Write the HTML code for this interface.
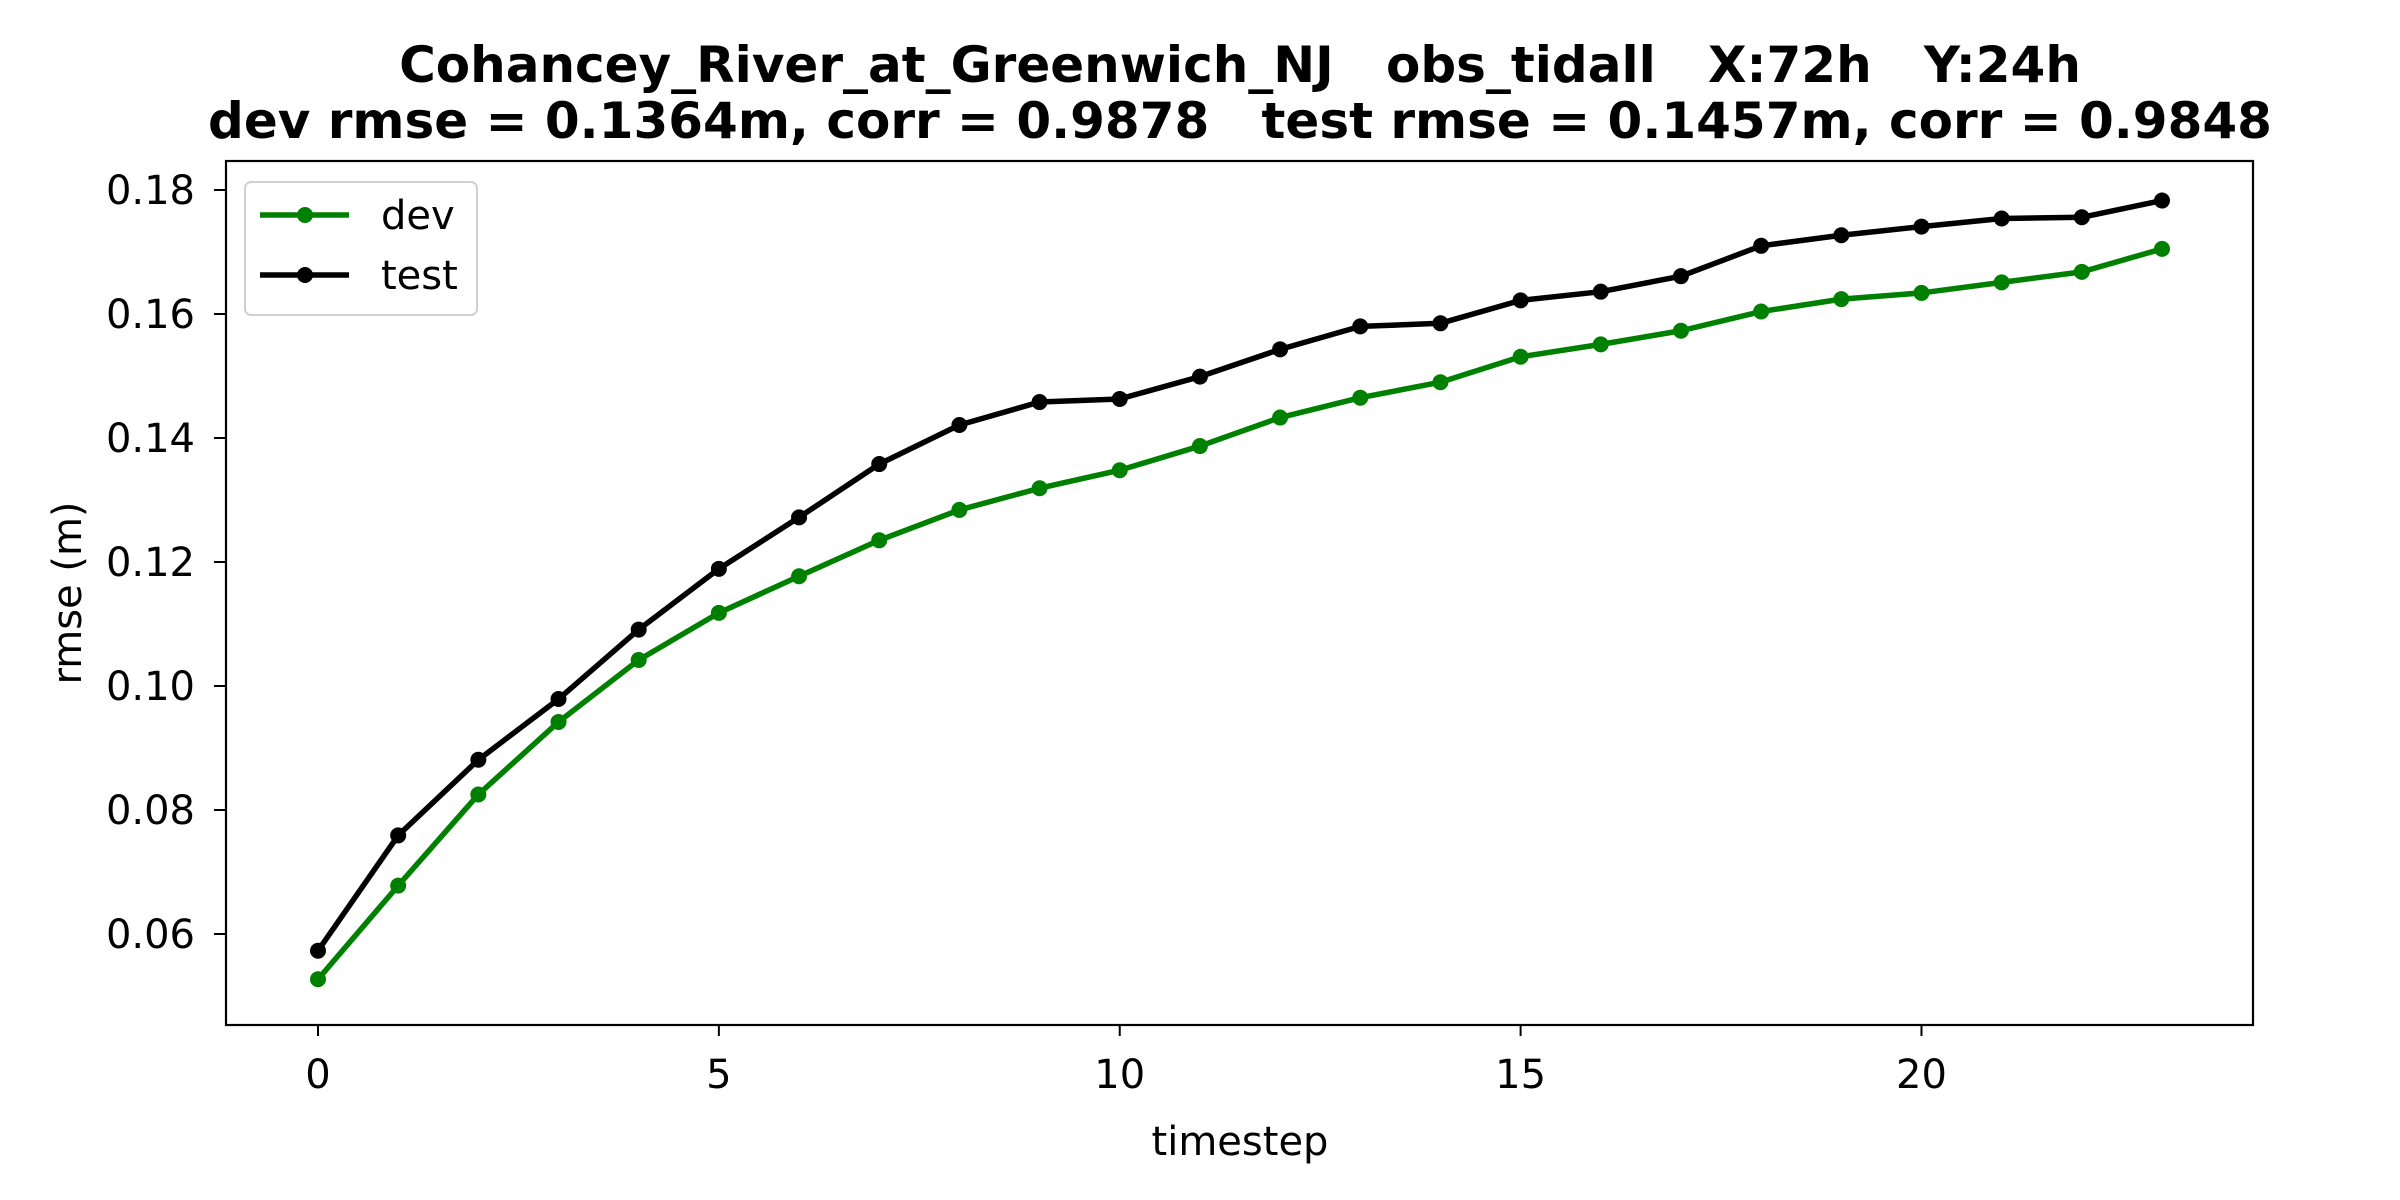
<!DOCTYPE html>
<html><head><meta charset="utf-8"><style>
html,body{margin:0;padding:0;background:#fff;}
svg{display:block;font-family:"DejaVu Sans","Liberation Sans",sans-serif;}
</style></head><body>
<svg id="chart" width="2400" height="1200" viewBox="0 0 2400 1200">
<rect width="2400" height="1200" fill="#fff"/>
<text x="1240" y="82" text-anchor="middle" font-size="50" font-weight="bold" xml:space="preserve">Cohancey_River_at_Greenwich_NJ   obs_tidall   X:72h   Y:24h</text>
<text x="1240" y="138" text-anchor="middle" font-size="50" font-weight="bold" xml:space="preserve">dev rmse = 0.1364m, corr = 0.9878   test rmse = 0.1457m, corr = 0.9848</text>
<g id="xticks"></g><g id="yticks"></g><g id="series"></g>
<rect x="226" y="161" width="2027" height="864" fill="none" stroke="#000" stroke-width="2.2"/>
<text x="1240" y="1155" text-anchor="middle" font-size="40">timestep</text>
<text transform="translate(81,593) rotate(-90)" text-anchor="middle" font-size="40">rmse (m)</text>
<g>
<rect x="245" y="182" width="232" height="133" rx="6" fill="#fff" fill-opacity="0.8" stroke="#d0d0d0" stroke-width="2"/>
<g>
<line x1="260" y1="215" x2="349" y2="215" stroke="#008000" stroke-width="5.5"/><circle cx="305" cy="215" r="8" fill="#008000"/>
<text x="381" y="229" font-size="40">dev</text></g>
<g>
<line x1="260" y1="275" x2="349" y2="275" stroke="#000" stroke-width="5.5"/><circle cx="305" cy="275" r="8" fill="#000"/>
<text x="381" y="289" font-size="40">test</text></g>
</g>
</svg>
<script>
const timesteps=[0,1,2,3,4,5,6,7,8,9,10,11,12,13,14,15,16,17,18,19,20,21,22,23];
const devValues=[0.0527,0.0678,0.0825,0.0942,0.1042,0.1118,0.1177,0.1235,0.1284,0.1319,0.1348,0.1387,0.1433,0.1465,0.1490,0.1531,0.1551,0.1573,0.1604,0.1624,0.1634,0.1651,0.1668,0.1705];
const testValues=[0.0573,0.0759,0.0881,0.0979,0.1091,0.1189,0.1272,0.1358,0.1421,0.1458,0.1463,0.1499,0.1543,0.1580,0.1585,0.1622,0.1636,0.1661,0.1710,0.1727,0.1741,0.1754,0.1756,0.1783];
const xTickValues=[0,5,10,15,20];
const yTickValues=[0.06,0.08,0.10,0.12,0.14,0.16,0.18];
const yTickLabels=["0.06","0.08","0.10","0.12","0.14","0.16","0.18"];
const NS="http://www.w3.org/2000/svg";
function xs(t){return 318+t*(2162-318)/23;}
function ys(v){return 190+(0.18-v)*6200;}
function mk(tag,attrs,parent){const e=document.createElementNS(NS,tag);for(const k in attrs)e.setAttribute(k,attrs[k]);parent.appendChild(e);return e;}
const xt=document.getElementById('xticks');
xTickValues.forEach(v=>{
 const g=mk('g',{},xt);
 
 
 mk('line',{x1:xs(v),x2:xs(v),y1:1025,y2:1036,stroke:'#000','stroke-width':2},g);
 const t=mk('text',{x:xs(v),y:1088,'text-anchor':'middle','font-size':40},g);t.textContent=v;
});
const yt=document.getElementById('yticks');
yTickValues.forEach((v,i)=>{
 const g=mk('g',{},yt);
 
 
 mk('line',{x1:214,x2:226,y1:ys(v),y2:ys(v),stroke:'#000','stroke-width':2},g);
 const t=mk('text',{x:195,y:ys(v)+14,'text-anchor':'end','font-size':40},g);t.textContent=yTickLabels[i];
});
const sg=document.getElementById('series');
function drawSeries(vals,color,name){
 const g=mk('g',{},sg);
 
 
 const pl=mk('polyline',{points:vals.map((v,i)=>xs(timesteps[i])+','+ys(v)).join(' '),fill:'none',stroke:color,'stroke-width':5.5,'stroke-linejoin':'round'},g);
 
 
 vals.forEach((v,i)=>{
  const c=mk('circle',{cx:xs(timesteps[i]),cy:ys(v),r:8,fill:color},g);
  
  
 });
}
drawSeries(devValues,'#008000','dev');
drawSeries(testValues,'#000000','test');
</script>
</body></html>
